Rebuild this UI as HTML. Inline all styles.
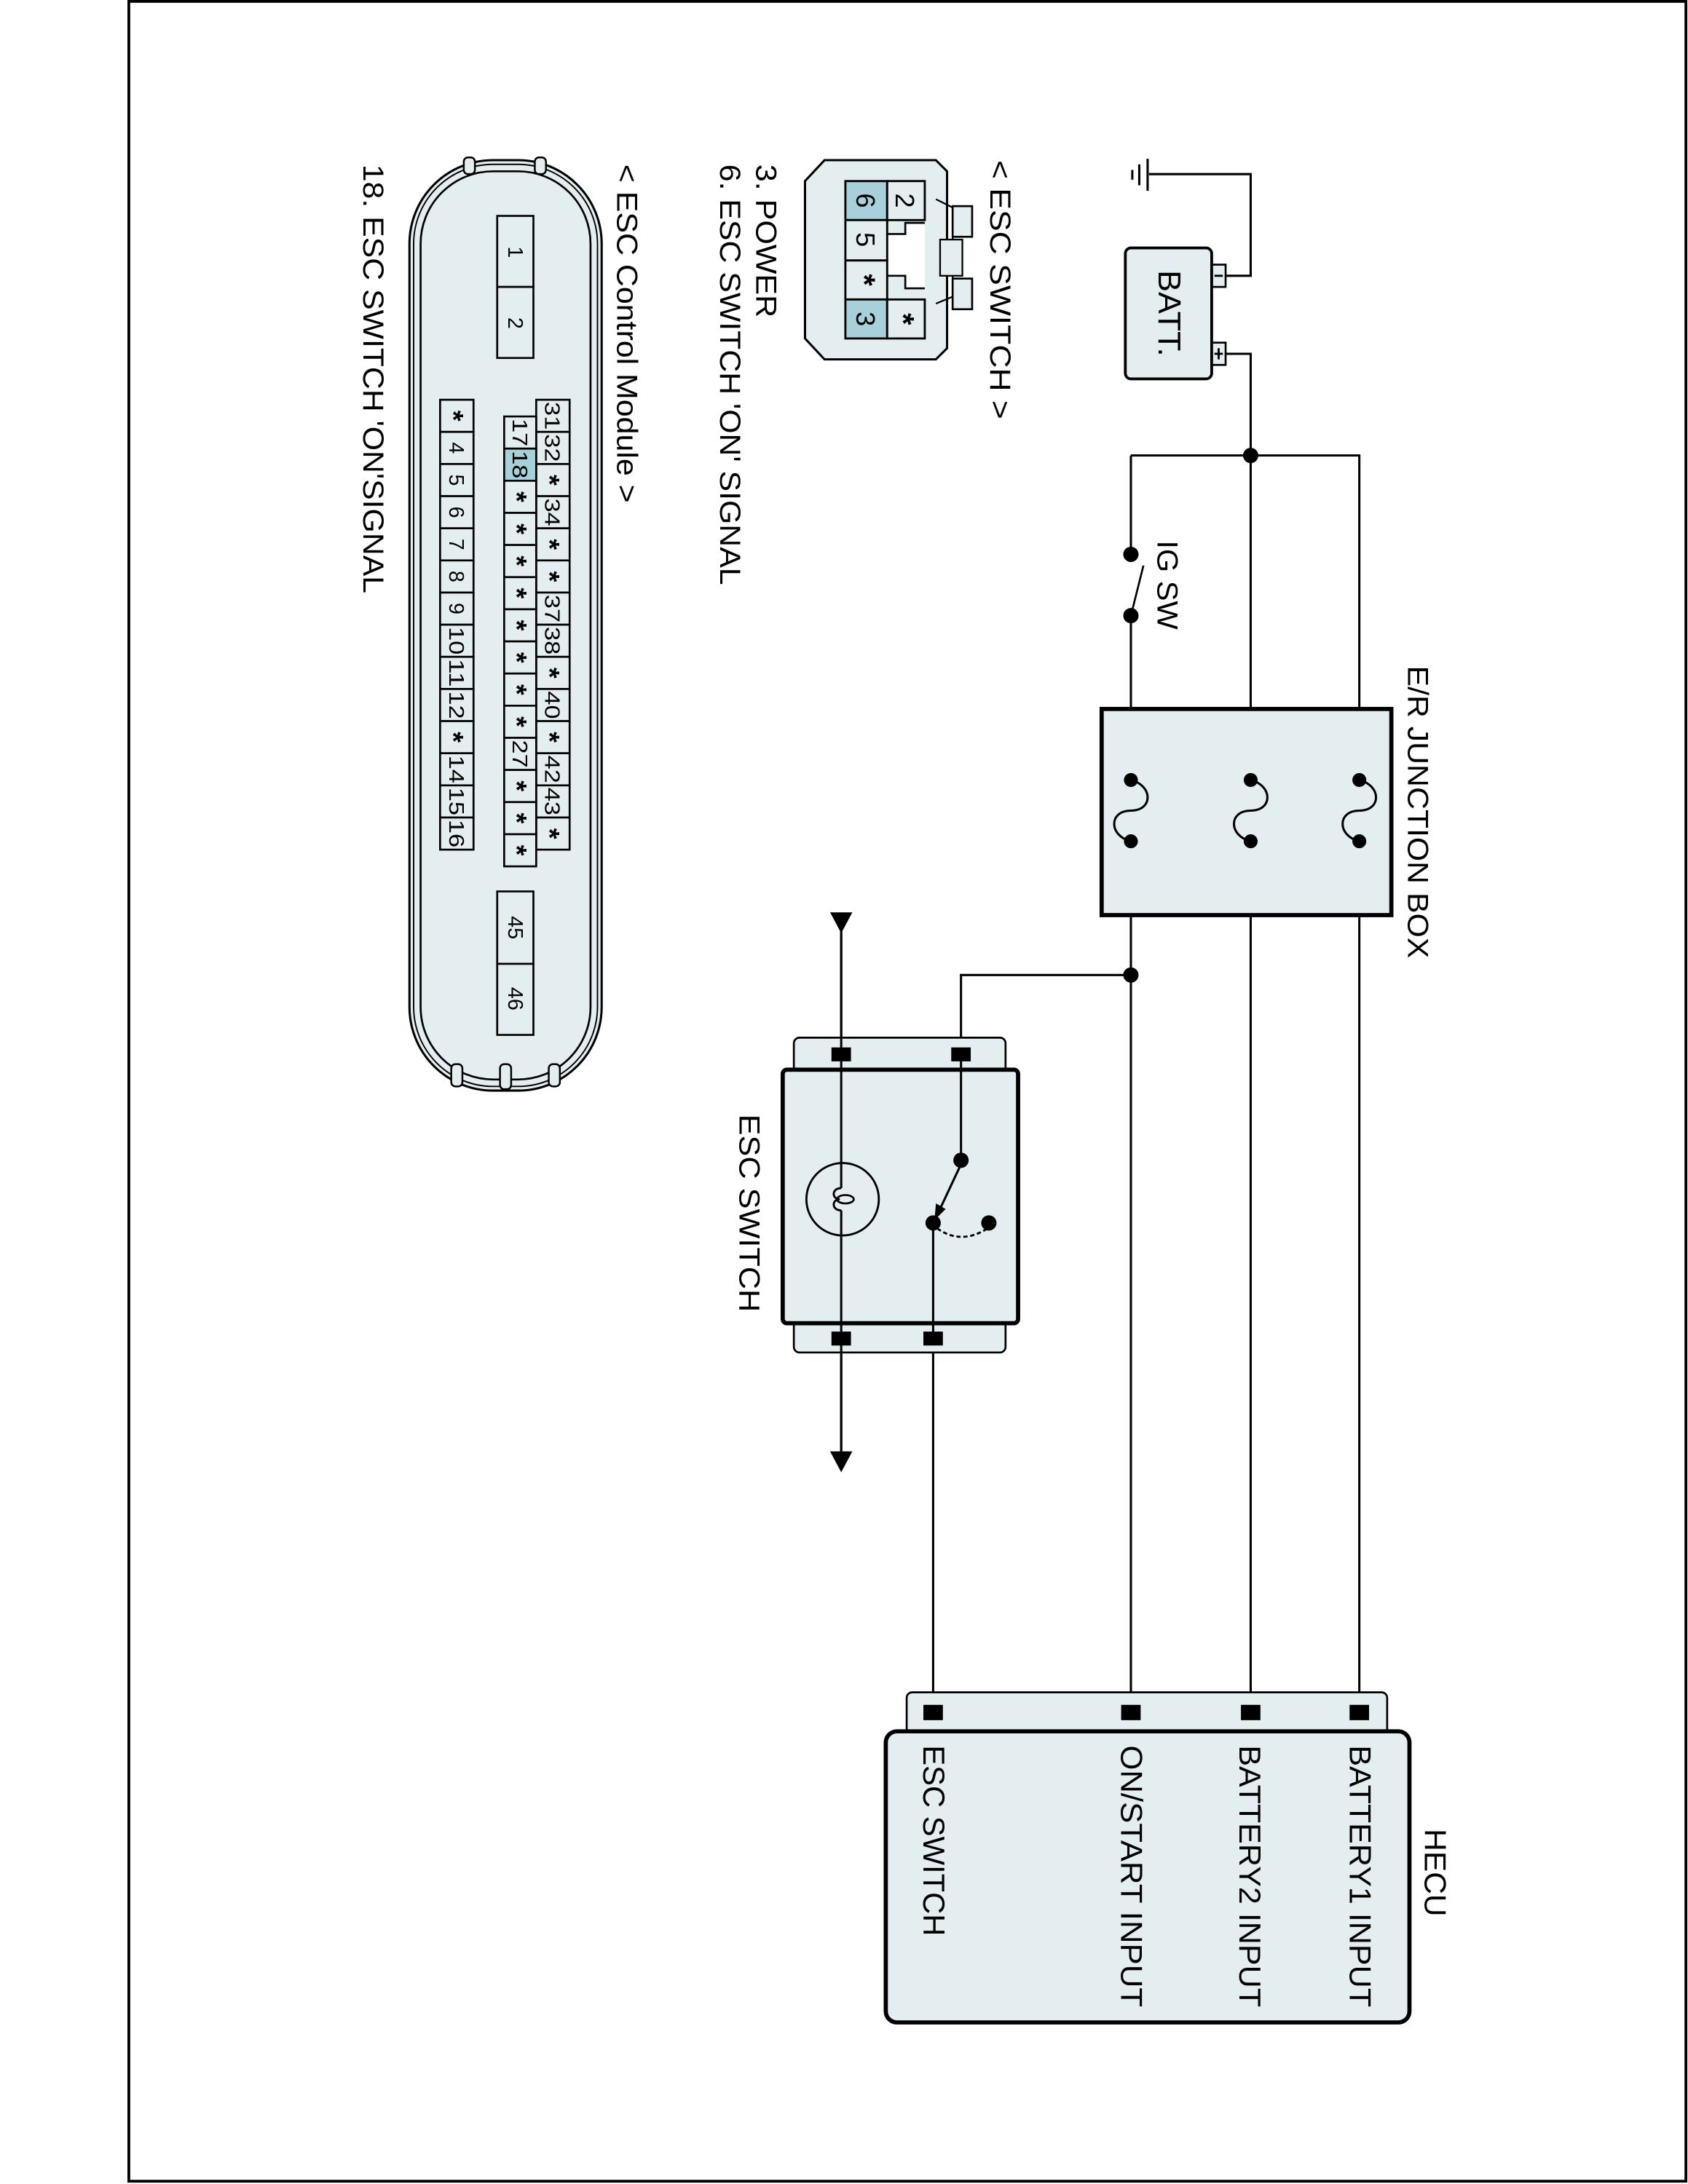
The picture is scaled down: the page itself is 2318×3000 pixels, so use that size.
<!DOCTYPE html>
<html><head><meta charset="utf-8"><style>
html,body{margin:0;padding:0;background:#fff}
svg{display:block}
text{font-family:"Liberation Sans",sans-serif;fill:#000}
</style></head><body>
<svg width="2318" height="3000" viewBox="0 0 1212 1568" preserveAspectRatio="none" xmlns="http://www.w3.org/2000/svg">
<rect x="92.5" y="1" width="1118" height="1565" fill="none" stroke="#000" stroke-width="2"/>

<g fill="none" stroke="#000" stroke-width="1.6">
<path d="M880,198 H898 V125 H825"/>
<path d="M880,254 H898 V1225"/>
<path d="M812,327 H976 V1225"/>
<path d="M812,327 V398"/>
<path d="M812,442 V1225"/>
<path d="M812,442 L821,406" stroke-width="1.4"/>
<path d="M812,700 H690 V757"/>
<path d="M604,660 V1048"/>
<path d="M690,757 V833"/>
<path d="M670,878 V1225"/>
</g>
<g stroke="#000" stroke-width="1.6">
<line x1="824" y1="114" x2="824" y2="137"/>
<line x1="818" y1="118" x2="818" y2="133"/>
<line x1="813" y1="122" x2="813" y2="129"/>
</g>
<circle cx="898" cy="327" r="5.5"/>
<circle cx="812" cy="700" r="5.5"/>
<circle cx="812" cy="398" r="5.5"/>
<circle cx="812" cy="442" r="5.5"/>

<rect x="870" y="190" width="10" height="16" fill="#e4eef0" stroke="#000" stroke-width="1.4"/>
<rect x="870" y="246" width="10" height="16" fill="#e4eef0" stroke="#000" stroke-width="1.4"/>
<line x1="872" y1="198" x2="878" y2="198" stroke="#000" stroke-width="1.5"/>
<line x1="872" y1="254" x2="878" y2="254" stroke="#000" stroke-width="1.5"/>
<line x1="875" y1="250" x2="875" y2="258" stroke="#000" stroke-width="1.5"/>
<rect x="808" y="178" width="62" height="94" rx="4" fill="#e4eef0" stroke="#000" stroke-width="2"/>
<text transform="translate(832,194) rotate(90)" font-size="23" textLength="62" lengthAdjust="spacingAndGlyphs">BATT.</text>
<text transform="translate(831,388) rotate(90)" font-size="21" textLength="64" lengthAdjust="spacingAndGlyphs">IG SW</text>

<rect x="791" y="509" width="208" height="148" fill="#e4eef0" stroke="#000" stroke-width="3"/>
<g fill="none" stroke="#000" stroke-width="1.6">
<path d="M812,560 C828,564 828,582 812,582 C796,582 796,600 812,604"/>
<path d="M898,560 C914,564 914,582 898,582 C882,582 882,600 898,604"/>
<path d="M976,560 C992,564 992,582 976,582 C960,582 960,600 976,604"/>
</g>
<g><circle cx="812" cy="560" r="5"/><circle cx="812" cy="604" r="5"/>
<circle cx="898" cy="560" r="5"/><circle cx="898" cy="604" r="5"/>
<circle cx="976" cy="560" r="5"/><circle cx="976" cy="604" r="5"/></g>
<text transform="translate(1011,478) rotate(90)" font-size="21" textLength="210" lengthAdjust="spacingAndGlyphs">E/R JUNCTION BOX</text>

<rect x="570" y="745" width="152" height="30" rx="4" fill="#e4eef0" stroke="#000" stroke-width="1.4"/>
<rect x="570" y="943" width="152" height="28" rx="4" fill="#e4eef0" stroke="#000" stroke-width="1.4"/>
<rect x="562" y="768" width="169" height="182" rx="3" fill="#e4eef0" stroke="#000" stroke-width="3"/>
<line x1="604" y1="660" x2="604" y2="853" stroke="#000" stroke-width="1.6"/>
<line x1="604" y1="869" x2="604" y2="1048" stroke="#000" stroke-width="1.6"/>
<line x1="690" y1="757" x2="690" y2="833" stroke="#000" stroke-width="1.6"/>
<line x1="670" y1="878" x2="670" y2="961" stroke="#000" stroke-width="1.6"/>
<rect x="597" y="752" width="14" height="10"/>
<rect x="683" y="752" width="14" height="10"/>
<rect x="597" y="956" width="14" height="10"/>
<rect x="663" y="956" width="14" height="10"/>
<polygon points="596,655 612,655 604,670"/>
<polygon points="596,1042 612,1042 604,1057"/>
<circle cx="605" cy="861" r="26" fill="none" stroke="#000" stroke-width="1.5"/>
<path d="M604,853 C597,853 597,861 603,861 C597,861 597,869 604,869" fill="none" stroke="#000" stroke-width="1.5"/>
<ellipse cx="607" cy="861" rx="6" ry="3" fill="none" stroke="#000" stroke-width="1.4"/>
<circle cx="690" cy="833" r="5.5"/>
<circle cx="670" cy="878" r="5.5"/>
<circle cx="710" cy="878" r="5.5"/>
<line x1="689" y1="838" x2="674" y2="870" stroke="#000" stroke-width="1.6"/>
<polygon points="671,876 672,864 679,868"/>
<path d="M673,882 Q690,894 709,882" fill="none" stroke="#000" stroke-width="1.5" stroke-dasharray="3,2"/>
<text transform="translate(531,800) rotate(90)" font-size="21" textLength="142" lengthAdjust="spacingAndGlyphs">ESC SWITCH</text>

<rect x="651" y="1215" width="345" height="34" rx="4" fill="#e4eef0" stroke="#000" stroke-width="1.4"/>
<rect x="636" y="1243" width="376" height="209" rx="8" fill="#e4eef0" stroke="#000" stroke-width="3"/>
<g><rect x="663" y="1224" width="14" height="11"/><rect x="805" y="1224" width="14" height="11"/>
<rect x="891" y="1224" width="14" height="11"/><rect x="969" y="1224" width="14" height="11"/></g>
<g font-size="22">
<text transform="translate(969,1253) rotate(90)" textLength="188" lengthAdjust="spacingAndGlyphs">BATTERY1 INPUT</text>
<text transform="translate(890,1253) rotate(90)" textLength="188" lengthAdjust="spacingAndGlyphs">BATTERY2 INPUT</text>
<text transform="translate(805,1253) rotate(90)" textLength="188" lengthAdjust="spacingAndGlyphs">ON/START INPUT</text>
<text transform="translate(663,1253) rotate(90)" textLength="137" lengthAdjust="spacingAndGlyphs">ESC SWITCH</text>
<text transform="translate(1023,1313) rotate(90)" textLength="63" lengthAdjust="spacingAndGlyphs">HECU</text>
</g>

<path d="M592,115 H672 L680,123 V250 L672,258 H592 L578,243 V130 Z" fill="#e4eef0" stroke="#000" stroke-width="1.6"/>
<path d="M672,143 L684,149 V213 L672,218" fill="none" stroke="#000" stroke-width="1.2"/>
<rect x="684" y="148" width="14" height="22" fill="#e4eef0" stroke="#000" stroke-width="1.4"/>
<rect x="684" y="200" width="14" height="22" fill="#e4eef0" stroke="#000" stroke-width="1.4"/>
<rect x="675" y="172" width="16" height="26" fill="#e4eef0" stroke="#000" stroke-width="1.2"/>
<path d="M664,160 H650 V168 H630 V198 H650 V207 H664" fill="#fff" stroke="#000" stroke-width="1.4"/>
<g stroke="#000" stroke-width="1.5">
<rect x="607" y="130" width="30" height="28" fill="#a8d0da"/>
<rect x="607" y="158" width="30" height="29" fill="#e4eef0"/>
<rect x="607" y="187" width="30" height="28" fill="#e4eef0"/>
<rect x="607" y="215" width="30" height="28" fill="#a8d0da"/>
<rect x="637" y="130" width="27" height="28" fill="#e4eef0"/>
<rect x="637" y="215" width="27" height="28" fill="#e4eef0"/>
</g>
<g font-size="19" text-anchor="middle">
<text transform="translate(622,144) rotate(90)" dy="7">6</text>
<text transform="translate(622,172) rotate(90)" dy="7">5</text>
<text transform="translate(622,201) rotate(90)" dy="9" font-weight="bold" font-size="22">*</text>
<text transform="translate(622,229) rotate(90)" dy="7">3</text>
<text transform="translate(650,144) rotate(90)" dy="7">2</text>
<text transform="translate(650,229) rotate(90)" dy="9" font-weight="bold" font-size="22">*</text>
</g>
<text transform="translate(711,115) rotate(90)" font-size="21" textLength="186" lengthAdjust="spacingAndGlyphs">&lt; ESC SWITCH &gt;</text>
<text transform="translate(543,118) rotate(90)" font-size="21" textLength="110" lengthAdjust="spacingAndGlyphs">3. POWER</text>
<text transform="translate(517,118) rotate(90)" font-size="21" textLength="302" lengthAdjust="spacingAndGlyphs">6. ESC SWITCH 'ON' SIGNAL</text>
<text transform="translate(443,118) rotate(90)" font-size="21" textLength="243" lengthAdjust="spacingAndGlyphs">&lt; ESC Control Module &gt;</text>
<text transform="translate(261,118) rotate(90)" font-size="21" textLength="308" lengthAdjust="spacingAndGlyphs">18. ESC SWITCH 'ON'SIGNAL</text>

<rect x="294" y="115" width="138" height="668" rx="60" fill="#e4eef0" stroke="#000" stroke-width="1.6"/>
<rect x="297" y="118" width="132" height="662" rx="57" fill="none" stroke="#000" stroke-width="1"/>
<rect x="302" y="123" width="122" height="652" rx="52" fill="none" stroke="#000" stroke-width="1.4"/>
<g fill="#e4eef0" stroke="#000" stroke-width="1.3">
<rect x="333" y="113" width="8" height="12" rx="3"/>
<rect x="384" y="113" width="8" height="12" rx="3"/>
<rect x="324" y="764" width="8" height="16" rx="3"/>
<rect x="359" y="764" width="8" height="18" rx="3"/>
<rect x="394" y="764" width="8" height="16" rx="3"/>
</g>
<g stroke="#000" stroke-width="1.4" fill="#e4eef0">
<rect x="357" y="155" width="26" height="51"/><rect x="357" y="206" width="26" height="51"/>
<rect x="357" y="640" width="26" height="52"/><rect x="357" y="692" width="26" height="51"/>
</g>
<g font-size="15" text-anchor="middle">
<text transform="translate(370,181) rotate(90)" dy="5">1</text>
<text transform="translate(370,232) rotate(90)" dy="5">2</text>
<text transform="translate(370,666) rotate(90)" dy="5">45</text>
<text transform="translate(370,717) rotate(90)" dy="5">46</text>
</g>
<g id="cells" stroke="#000" stroke-width="1.4" font-size="15" text-anchor="middle"></g>
<script>
(function(){
var g=document.getElementById('cells'),ns='http://www.w3.org/2000/svg';
var cols=[
 {x:385,w:24,y0:287,y1:610,l:['31','32','*','34','*','*','37','38','*','40','*','42','43','*']},
 {x:362,w:23,y0:299,y1:622,l:['17','18','*','*','*','*','*','*','*','*','27','*','*','*']},
 {x:316,w:24,y0:287,y1:610,l:['*','4','5','6','7','8','9','10','11','12','*','14','15','16']}];
cols.forEach(function(c){var h=(c.y1-c.y0)/c.l.length;
 c.l.forEach(function(t,i){var r=document.createElementNS(ns,'rect');
  r.setAttribute('x',c.x);r.setAttribute('y',c.y0+i*h);r.setAttribute('width',c.w);r.setAttribute('height',h);
  r.setAttribute('fill',t==='18'?'#a8d0da':'#e4eef0');g.appendChild(r);
  var tx=document.createElementNS(ns,'text');
  tx.setAttribute('transform','translate('+(c.x+c.w/2)+','+(c.y0+i*h+h/2)+') rotate(90)');
  tx.setAttribute('dy',t==='*'?'9':'5.5');tx.setAttribute('stroke','none');
  if(t==='*'){tx.setAttribute('font-size','20');tx.setAttribute('font-weight','bold');}
  if(t.length===2){tx.setAttribute('textLength','20');tx.setAttribute('lengthAdjust','spacingAndGlyphs');}
  tx.textContent=t;g.appendChild(tx);});});
})();
</script>
</svg>
</body></html>
